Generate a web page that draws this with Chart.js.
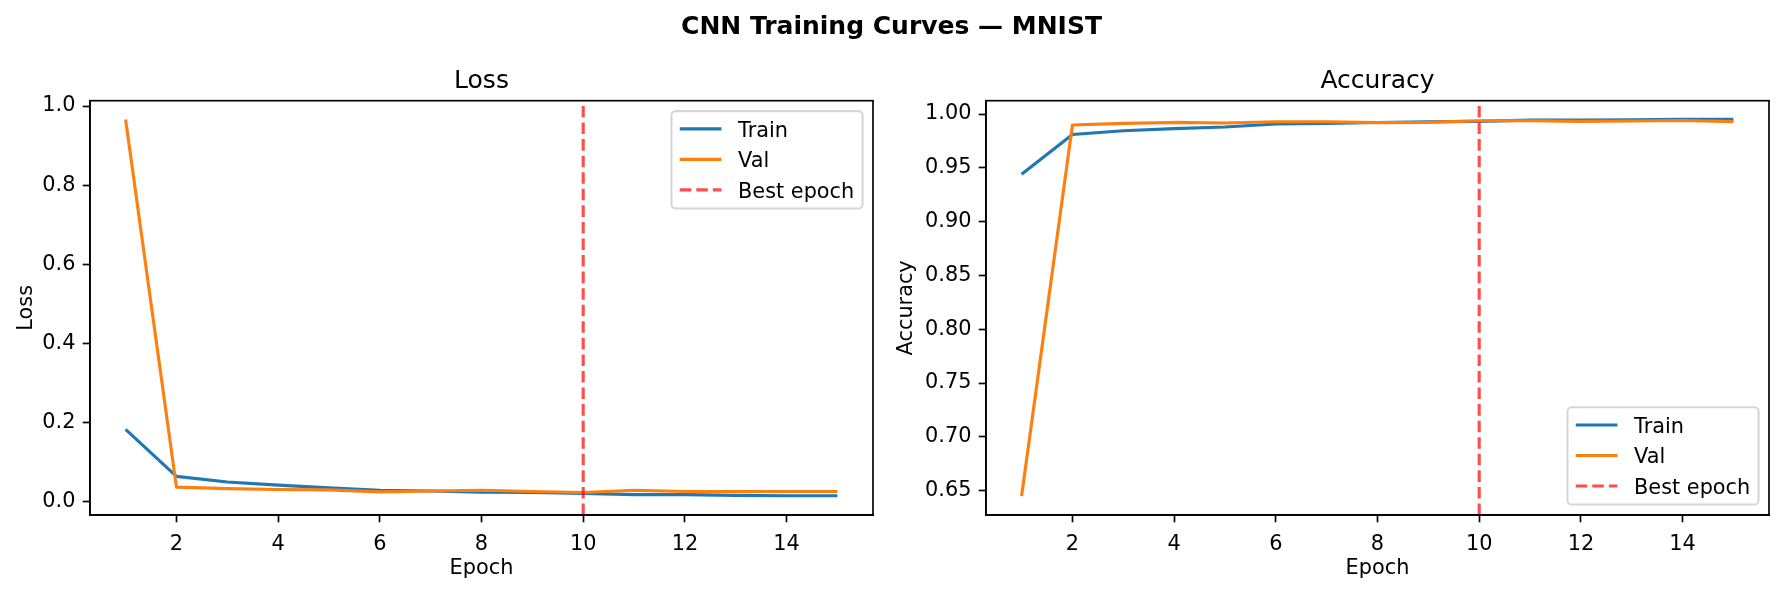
<!DOCTYPE html>
<html>
<head>
<meta charset="utf-8">
<script src="https://cdn.jsdelivr.net/npm/chart.js@4.4.1/dist/chart.umd.min.js"></script>
<style>
  html, body { margin: 0; padding: 0; background: #fff; }
  body { width: 1783px; height: 593px; position: relative; overflow: hidden; font-family: 'DejaVu Sans', sans-serif; color: #000; }
  canvas { position: absolute; top: 0; }
  #js-loss { left: 0; }
  #js-acc { left: 880px; }
  .title { position: absolute; text-align: center; white-space: nowrap; font-size: 25px; line-height: 30px; }
  #suptitle { left: 0; width: 1783px; top: 10.6px; font-weight: bold; }
  #loss-title { left: 90px; width: 783px; top: 65px; }
  #acc-title { left: 986px; width: 783px; top: 65px; }
</style>
</head>
<body>
<canvas id="js-loss" width="880" height="593"></canvas>
<canvas id="js-acc" width="903" height="593"></canvas>
<div class="title" id="suptitle">CNN Training Curves — MNIST</div>
<div class="title" id="loss-title">Loss</div>
<div class="title" id="acc-title">Accuracy</div>
<script>
var epochs    = [1, 2, 3, 4, 5, 6, 7, 8, 9, 10, 11, 12, 13, 14, 15]
var trainLoss = [0.183, 0.064, 0.050, 0.042, 0.035, 0.029, 0.027, 0.024, 0.0235, 0.021, 0.018, 0.018, 0.016, 0.015, 0.015]
var valLoss   = [0.966, 0.037, 0.033, 0.031, 0.030, 0.025, 0.027, 0.029, 0.026, 0.0235, 0.029, 0.026, 0.026, 0.026, 0.026]
var trainAcc  = [0.944, 0.981, 0.9845, 0.9864, 0.988, 0.9907, 0.9913, 0.9922, 0.9928, 0.9932, 0.9943, 0.9945, 0.9947, 0.995, 0.995]
var valAcc    = [0.645, 0.9898, 0.9913, 0.9922, 0.9917, 0.9928, 0.9928, 0.992, 0.9923, 0.9938, 0.9938, 0.9932, 0.9935, 0.994, 0.993]
var bestEpoch = 10

var epochTicks = [2, 4, 6, 8, 10, 12, 14]
var lossTicks  = [0, 0.2, 0.4, 0.6, 0.8, 1.0]
var accTicks   = [0.65, 0.70, 0.75, 0.80, 0.85, 0.90, 0.95, 1.00]
var epochRange = [0.3, 15.7]
var lossRange  = [-0.0335, 1.0135]
var accRange   = [0.6274, 1.0124]

// matplotlib points at 150 dpi
const PT = 150 / 72
const FS = 10 * PT

Chart.defaults.font.family = "'DejaVu Sans', sans-serif"
Chart.defaults.color = '#000'

function points(ys) {
  return epochs.map((x, i) => ({x: x, y: ys[i]}))
}

function series(label, color, ys, order) {
  return {
    label: label
  , data: points(ys)
  , borderColor: color
  , backgroundColor: color
  , borderWidth: 1.5 * PT
  , borderJoinStyle: 'round'
  , pointRadius: 0
  , tension: 0
  , fill: false
  , order: order
  }
}

function bestLine(range) {
  return {
    label: 'Best epoch'
  , data: [{x: bestEpoch, y: range[0]}, {x: bestEpoch, y: range[1]}]
  , borderColor: 'rgba(255,0,0,0.7)'
  , borderWidth: 1.5 * PT
  , borderDash: [3.7 * 1.5 * PT, 1.6 * 1.5 * PT]
  , pointRadius: 0
  , fill: false
  , order: 0
  }
}

function fixedTicks(values) {
  return (s) => { s.ticks = values.map((v) => ({value: v})) }
}

function xScale() {
  return {
    type: 'linear'
  , min: epochRange[0]
  , max: epochRange[1]
  , afterBuildTicks: fixedTicks(epochTicks)
  , afterFit: (s) => { s.height = 78 }
  , ticks: { font: {size: FS}, padding: 3.5 * PT + 2.3, maxRotation: 0, autoSkip: false, callback: (v) => String(v) }
  , grid: { drawOnChartArea: false, tickLength: 3.5 * PT, tickWidth: 0.8 * PT, tickColor: '#000' }
  , border: { color: '#000', width: 0.8 * PT }
  , title: { display: true, text: 'Epoch', font: {size: FS}, padding: {top: 0, bottom: 12.1} }
  }
}

function yScale(range, values, digits, label, width) {
  return {
    type: 'linear'
  , min: range[0]
  , max: range[1]
  , afterBuildTicks: fixedTicks(values)
  , afterFit: (s) => { s.width = width }
  , ticks: { font: {size: FS}, padding: 3.5 * PT, autoSkip: false, callback: (v) => v.toFixed(digits) }
  , grid: { drawOnChartArea: false, tickLength: 3.5 * PT, tickWidth: 0.8 * PT, tickColor: '#000' }
  , border: { color: '#000', width: 0.8 * PT }
  , title: { display: true, text: label, font: {size: FS}, padding: {top: 13.6, bottom: 0} }
  }
}

var frame = {
  id: 'frame'
, afterDraw(chart) {
    var a = chart.chartArea, ctx = chart.ctx
    ctx.save()
    ctx.strokeStyle = '#000'
    ctx.lineWidth = 0.8 * PT
    ctx.strokeRect(a.left, a.top, a.right - a.left, a.bottom - a.top)
    ctx.restore()
  }
}

// legend inside the axes, like matplotlib's "best" placement
var boxLegend = {
  id: 'boxLegend'
, afterDraw(chart, args, opts) {
    var a = chart.chartArea, ctx = chart.ctx
    var sets = chart.data.datasets
    ctx.save()
    ctx.font = FS + "px 'DejaVu Sans'"
    var textW = Math.max.apply(null, sets.map((d) => ctx.measureText(d.label).width))
    var w = 0.4 * FS + 2 * FS + 0.8 * FS + textW + 0.4 * FS
    var h = 97.4
    var x = a.right - 0.5 * FS - w
    var y = opts.corner === 'bottom' ? a.bottom - 0.5 * FS - h : a.top + 0.5 * FS
    ctx.beginPath()
    ctx.roundRect(x, y, w, h, 0.2 * FS)
    ctx.fillStyle = 'rgba(255,255,255,0.8)'
    ctx.fill()
    ctx.strokeStyle = 'rgba(204,204,204,0.8)'
    ctx.lineWidth = 1 * PT
    ctx.stroke()
    sets.forEach((d, i) => {
      var ry = y + 17.8 + i * 30.5
      ctx.beginPath()
      ctx.setLineDash(d.borderDash || [])
      ctx.strokeStyle = d.borderColor
      ctx.lineWidth = d.borderWidth
      ctx.moveTo(x + 0.4 * FS, ry)
      ctx.lineTo(x + 2.4 * FS, ry)
      ctx.stroke()
      ctx.setLineDash([])
      ctx.fillStyle = '#000'
      ctx.textBaseline = 'alphabetic'
      ctx.fillText(d.label, x + 3.2 * FS, ry + 0.3645 * FS)
    })
    ctx.restore()
  }
}

function draw(id, opts) {
  var ctx = document.getElementById(id).getContext('2d')
  new Chart(ctx, {
    type: 'line'
  , data: {
      datasets: [
        series('Train', '#1f77b4', opts.train, 2)
      , series('Val', '#ff7f0e', opts.val, 1)
      , bestLine(opts.range)
      ]
    }
  , options: {
      responsive: false
    , animation: false
    , layout: { padding: { top: 100.7, right: opts.padRight, bottom: 0, left: 0 } }
    , plugins: { legend: { display: false }, tooltip: { enabled: false }, boxLegend: { corner: opts.corner } }
    , scales: {
        x: xScale()
      , y: yScale(opts.range, opts.ticks, opts.digits, opts.label, opts.axisWidth)
      }
    }
  , plugins: [frame, boxLegend]
  })
}

draw('js-loss', {
  train: trainLoss, val: valLoss, range: lossRange, ticks: lossTicks
, digits: 1, label: 'Loss', axisWidth: 90, padRight: 7, corner: 'top'
})

draw('js-acc', {
  train: trainAcc, val: valAcc, range: accRange, ticks: accTicks
, digits: 2, label: 'Accuracy', axisWidth: 106, padRight: 14, corner: 'bottom'
})
</script>
</body>
</html>
